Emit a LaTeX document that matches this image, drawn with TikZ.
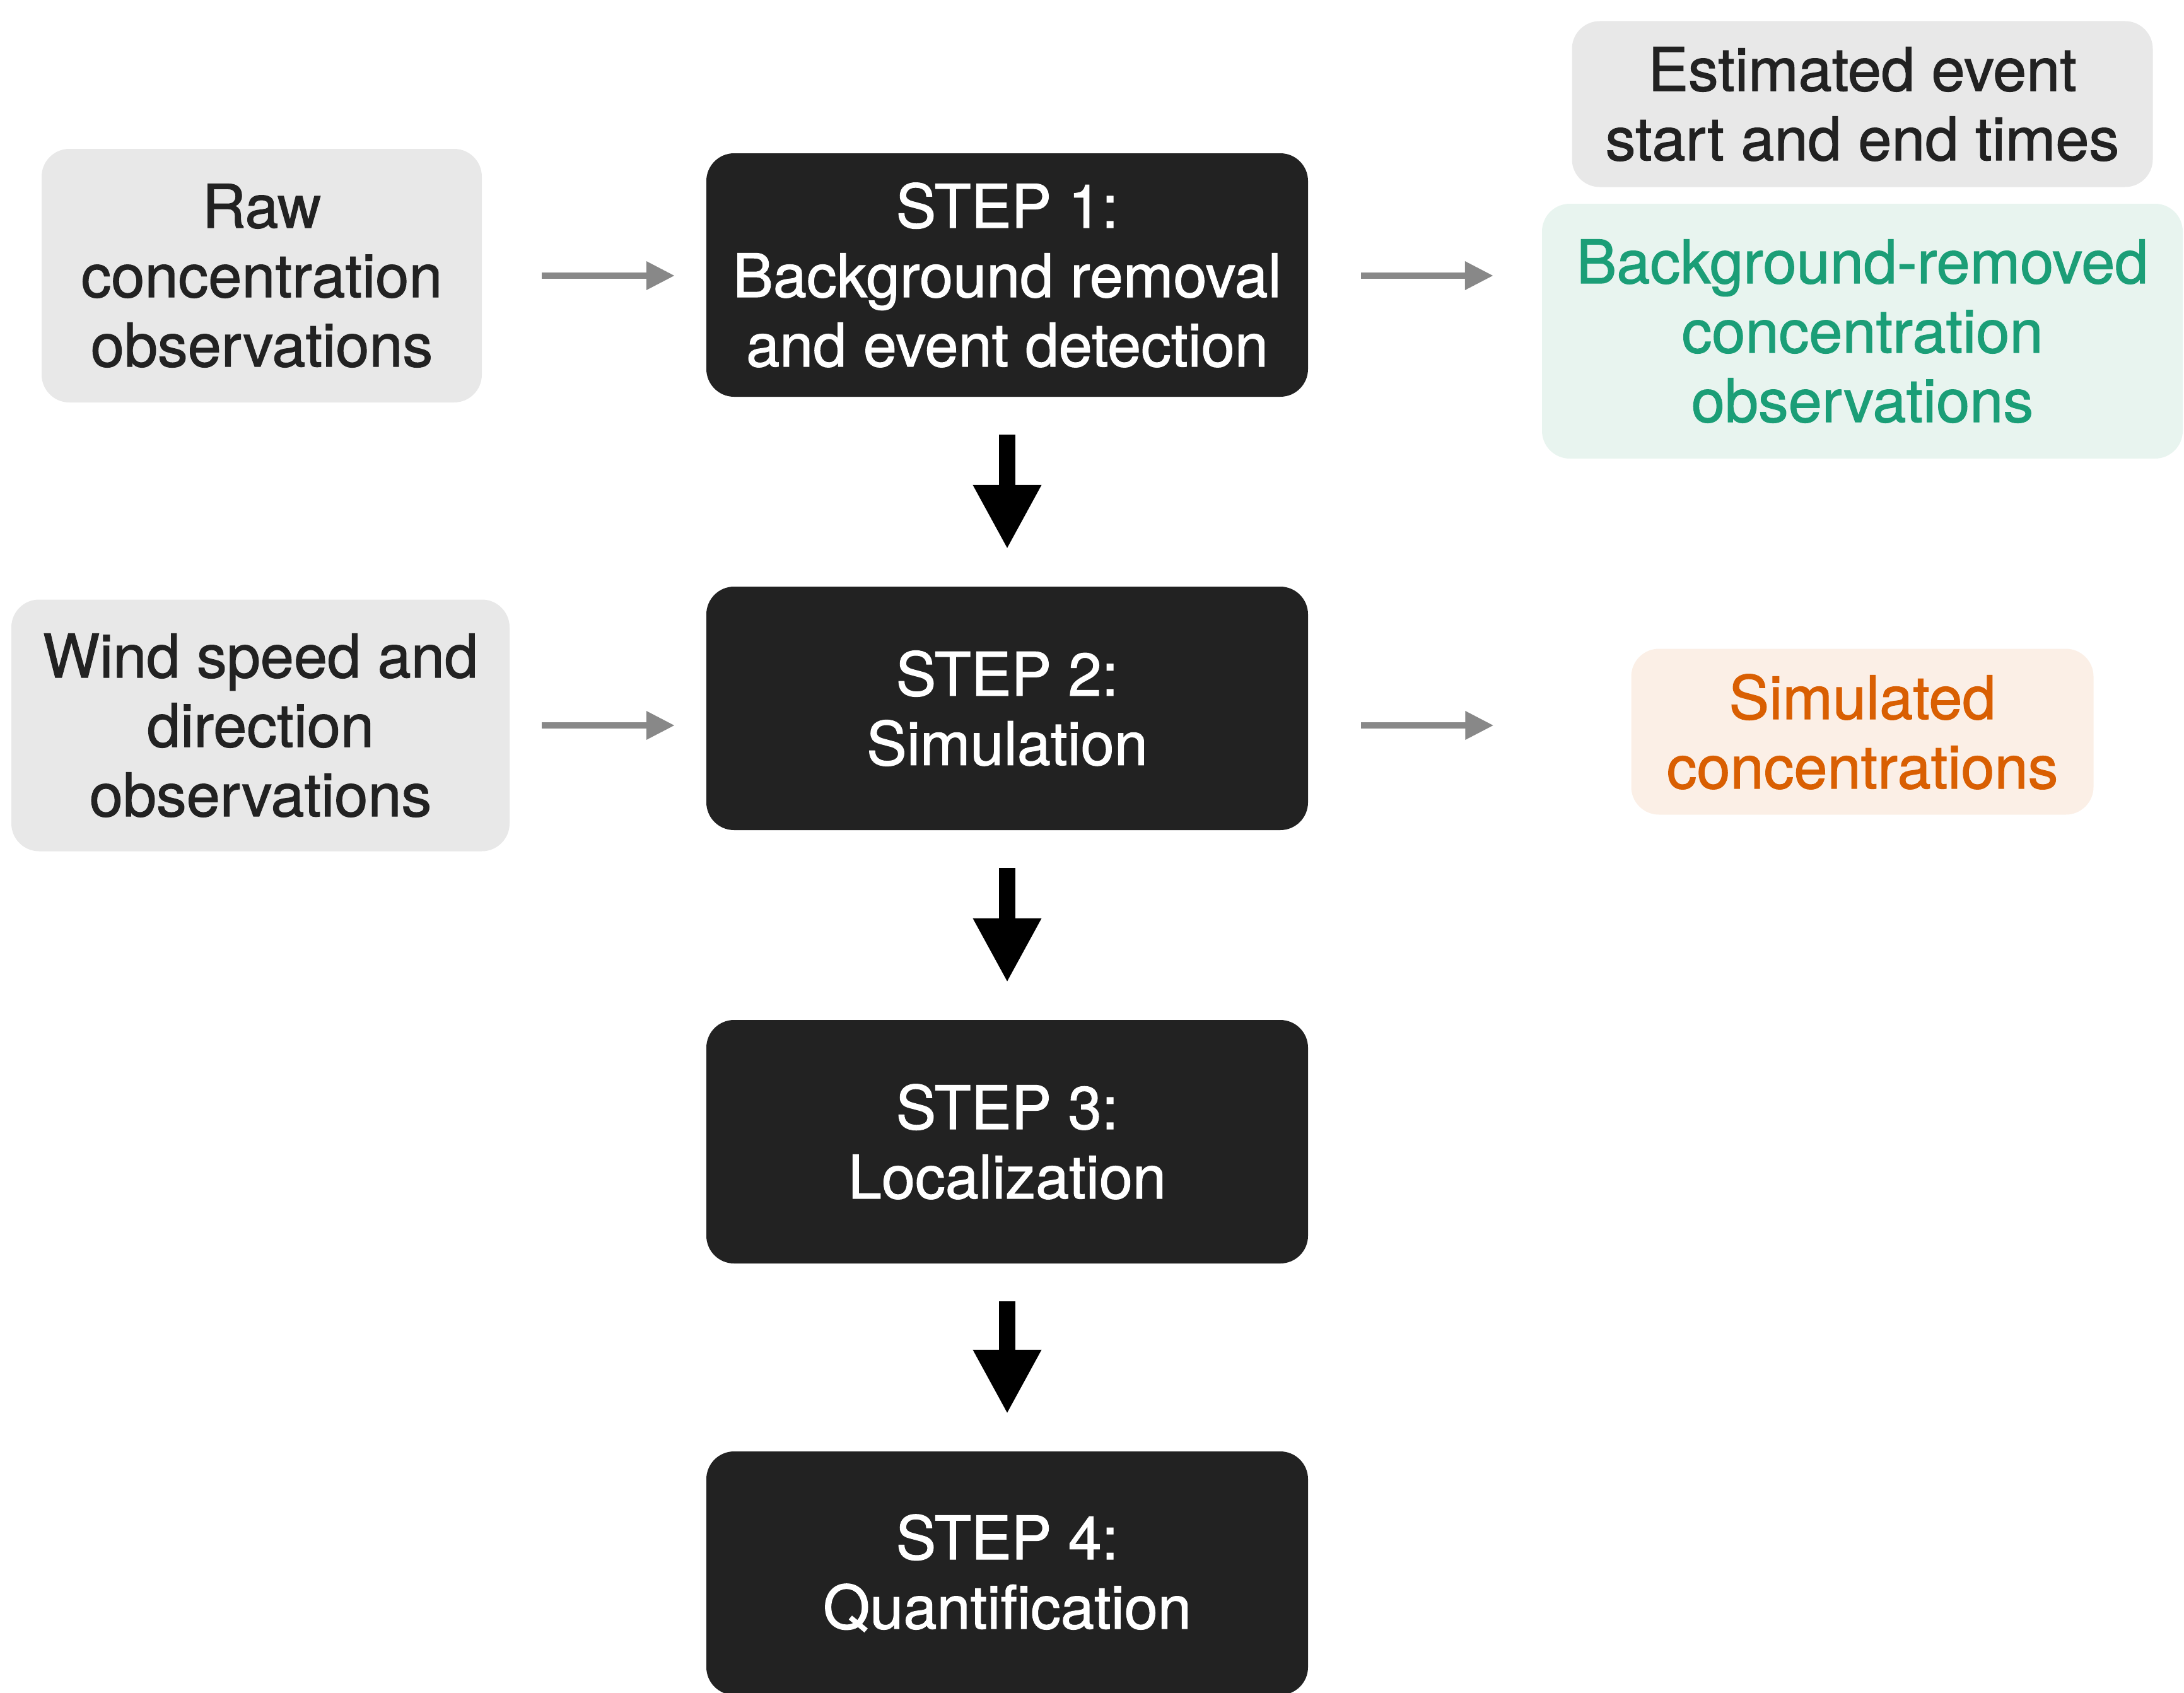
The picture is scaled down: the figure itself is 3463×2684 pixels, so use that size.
\documentclass[tikz,border=0pt]{standalone}
\usepackage{fontspec}
\setmainfont{TeX Gyre Heros}[FakeBold=1.2]
\usetikzlibrary{arrows.meta,calc}
\definecolor{boxdark}{HTML}{222222}
\definecolor{boxgray}{HTML}{E8E8E8}
\definecolor{inktext}{HTML}{222222}
\definecolor{greenfill}{HTML}{E8F4EF}
\definecolor{greenink}{HTML}{1B9E77}
\definecolor{orangefill}{HTML}{FBEFE6}
\definecolor{orangeink}{HTML}{D95F02}
\definecolor{arrowgray}{HTML}{888888}
\tikzset{
  basebox/.style={rectangle, rounded corners=44pt, align=center, inner sep=0pt,
    font=\fontsize{95.5}{110}\selectfont},
  stepbox/.style={basebox, fill=boxdark, text=white, minimum width=954pt, minimum height=386pt},
  inbox/.style={basebox, fill=boxgray, text=inktext},
  greenbox/.style={basebox, fill=greenfill, text=greenink},
  orangebox/.style={basebox, fill=orangefill, text=orangeink},
  flowarrow/.style={draw=black, line width=26pt, -{Triangle[width=101pt,length=102pt]}},
  feedarrow/.style={draw=arrowgray, line width=10pt, -{Triangle[width=43pt,length=45pt]}}
}
\begin{document}
\begin{tikzpicture}[x=1pt, y=-1pt]
\useasboundingbox (0,0) rectangle (3463,2684);

% main pipeline
\node[stepbox] (s1) at (1597,436) {STEP 1:\\Background removal\\and event detection};
\node[stepbox] (s2) at (1597,1123) {STEP 2:\\Simulation};
\node[stepbox] (s3) at (1597,1810) {STEP 3:\\Localization};
\node[stepbox] (s4) at (1597,2494) {STEP 4:\\Quantification};

% inputs
\node[inbox, minimum width=698pt, minimum height=402pt] (raw) at (415,437)
  {Raw\\concentration\\observations};
\node[inbox, minimum width=790pt, minimum height=399pt] (wind) at (413,1150)
  {Wind speed and\\direction\\observations};

% outputs
\node[inbox, minimum width=921pt, minimum height=263pt] (est) at (2953,165)
  {Estimated event\\start and end times};
\node[greenbox, minimum width=1016pt, minimum height=404pt] (bgr) at (2953,525)
  {Background-removed\\concentration\\observations};
\node[orangebox, minimum width=733pt, minimum height=263pt] (sim) at (2953,1160)
  {Simulated\\concentrations};

% step-to-step arrows
\draw[flowarrow, shorten <=60pt, shorten >=59pt] (s1.south) -- (s2.north);
\draw[flowarrow, shorten <=60pt, shorten >=59pt] (s2.south) -- (s3.north);
\draw[flowarrow, shorten <=60pt, shorten >=59pt] (s3.south) -- (s4.north);

% inputs and outputs
\draw[feedarrow, shorten <=95pt, shorten >=50pt] (raw.east) -- (raw.east -| s1.west);
\draw[feedarrow, shorten <=51pt, shorten >=50pt] (wind.east) -- (wind.east -| s2.west);
\coordinate (r1) at (s1.east |- raw.east);
\coordinate (r2) at (s2.east |- wind.east);
\draw[feedarrow, shorten <=84pt, shorten >=77pt] (r1) -- (r1 -| bgr.west);
\draw[feedarrow, shorten <=84pt, shorten >=218pt] (r2) -- (r2 -| sim.west);
\end{tikzpicture}
\end{document}
